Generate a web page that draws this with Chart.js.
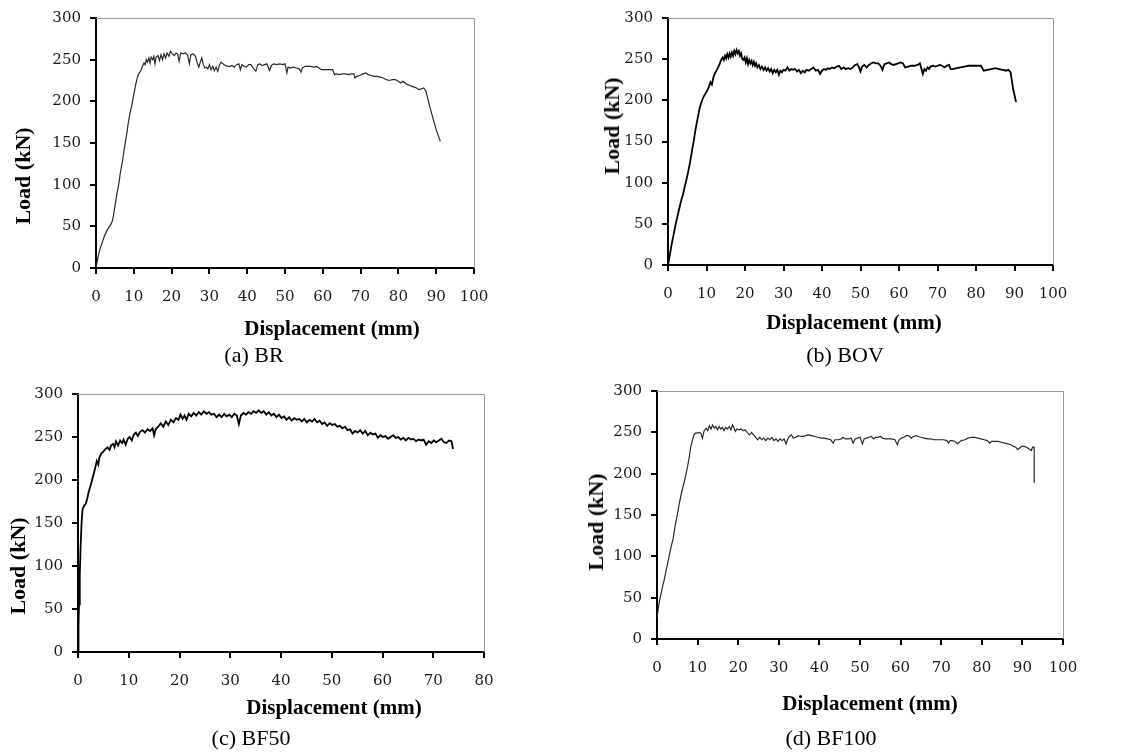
<!DOCTYPE html>
<html>
<head>
<meta charset="utf-8">
<script src="https://cdn.jsdelivr.net/npm/chart.js@4.4.1/dist/chart.umd.min.js"></script>
<style>
  html, body { margin: 0; padding: 0; background: #fff; }
  #wrap { position: relative; width: 1121px; height: 753px; overflow: hidden; background: #fff; }
  canvas { position: absolute; }
  .t { position: absolute; color: #000; white-space: nowrap; transform: translate(-50%, -50%); line-height: 1; font-family: "Liberation Serif", "Times New Roman", serif; }
  .xt { font-weight: bold; font-size: 21px; }
  .yt { font-weight: bold; font-size: 22px; transform: translate(-50%, -50%) rotate(-90deg); }
  .cap { font-size: 22px; }
</style>
</head>
<body>
<div id="wrap">
  <canvas id="cA" width="560" height="320" style="left:0px;top:0px;width:560px;height:320px"></canvas>
  <canvas id="cB" width="561" height="320" style="left:560px;top:0px;width:561px;height:320px"></canvas>
  <canvas id="cC" width="560" height="350" style="left:0px;top:370px;width:560px;height:350px"></canvas>
  <canvas id="cD" width="561" height="350" style="left:560px;top:370px;width:561px;height:350px"></canvas>

  <div class="t yt" style="left:23px;top:176px">Load (kN)</div>
  <div class="t xt" style="left:332px;top:328px">Displacement (mm)</div>
  <div class="t cap" style="left:254px;top:355px">(a) BR</div>

  <div class="t yt" style="left:612px;top:126px">Load (kN)</div>
  <div class="t xt" style="left:854px;top:322px">Displacement (mm)</div>
  <div class="t cap" style="left:845px;top:355px">(b) BOV</div>

  <div class="t yt" style="left:18px;top:566px">Load (kN)</div>
  <div class="t xt" style="left:334px;top:707px">Displacement (mm)</div>
  <div class="t cap" style="left:251px;top:738px">(c) BF50</div>

  <div class="t yt" style="left:596px;top:522px">Load (kN)</div>
  <div class="t xt" style="left:870px;top:703px">Displacement (mm)</div>
  <div class="t cap" style="left:831px;top:738px">(d) BF100</div>
</div>
<script>
// ---------------- DATA ----------------
const yTicks = [0, 50, 100, 150, 200, 250, 300];
const xTicks100 = [0, 10, 20, 30, 40, 50, 60, 70, 80, 90, 100];
const xTicks80 = [0, 10, 20, 30, 40, 50, 60, 70, 80];

// (a) BR
const brX = [0,0.5,1,1.6,2.2,2.8,3.4,3.9,4.3,4.6,5.0,5.5,6.0,6.5,7.0,7.4,7.8,8.2,8.6,9.0,9.5,10.0,10.5,10.9,11.3,11.9,12.3,12.7,13.0,13.3,13.6,14.0,14.3,14.6,15.0,15.3,15.6,15.9,16.4,16.8,17.2,17.6,18.0,18.4,18.8,19.3,19.7,20.2,20.7,21.2,21.6,22.0,22.4,23.0,23.6,24.2,24.7,25.1,25.7,26.3,26.8,27.2,27.6,28.0,28.4,28.8,29.2,29.6,30.0,30.4,30.9,31.3,31.8,32.2,32.7,33.1,33.6,34.2,34.8,35.4,36.0,36.6,37.2,37.8,38.2,38.6,39.2,39.8,40.4,41.0,41.6,42.3,42.8,43.3,44.0,44.6,45.2,45.9,46.4,47.0,47.8,48.6,49.4,50.0,50.5,50.8,51.4,52.2,53.0,53.8,54.2,54.6,55.3,56.0,56.8,57.6,58.4,59.0,59.6,60.4,61.2,62.0,62.6,63.1,63.6,64.4,65.2,66.0,66.8,67.6,68.2,68.5,69.0,69.8,70.6,71.4,72.0,72.8,73.6,74.4,75.2,76.0,76.8,77.6,78.4,79.2,80.0,80.6,81.2,81.8,82.4,83.0,83.6,84.2,84.8,85.4,86.0,86.7,87.3,88.0,89.0,90.0,91.1];
const brY = [0,12,22,30,38,44,49,52,56,62,74,88,100,116,128,141,152,163,176,186,196,208,220,228,233,237,242,246,244,250,247,252,246,253,250,254,245,253,255,249,256,250,257,252,258,254,260,257,255,258,257,248,258,257,258,256,245,256,257,254,246,241,247,252,244,240,241,239,244,238,242,237,241,236,244,247,245,243,242,242,243,241,244,245,238,244,242,241,244,244,240,236,244,245,243,244,245,237,243,245,244,245,244,245,234,241,240,241,240,239,235,240,242,242,242,241,242,240,238,238,238,238,238,232,233,232,233,233,232,233,233,228,230,231,233,234,232,231,230,230,229,228,226,225,226,226,224,222,224,222,220,219,218,217,216,214,215,216,212,199,182,166,152];

// (b) BOV
const bovX = [0,0.4,0.9,1.5,2.1,2.7,3.3,3.9,4.5,5.1,5.7,6.2,6.7,7.2,7.7,8.2,8.7,9.2,9.7,10.2,10.6,11.0,11.4,11.8,12.2,12.6,13.0,13.4,13.8,14.2,14.5,14.8,15.1,15.4,15.7,16.0,16.3,16.6,16.9,17.2,17.5,17.8,18.1,18.4,18.7,19.0,19.3,19.6,19.9,20.2,20.5,20.8,21.1,21.4,21.7,22.0,22.3,22.6,22.9,23.2,23.6,24.0,24.4,24.8,25.2,25.6,26.0,26.4,26.8,27.2,27.6,28.0,28.4,28.8,29.2,29.6,30.0,30.5,31.0,31.5,32.0,32.5,33.0,33.5,34.0,34.5,35.0,35.5,36.0,36.6,37.2,37.8,38.4,39.0,39.5,40.0,40.5,41.0,41.5,42.0,42.6,43.2,43.8,44.4,45.0,45.6,46.2,46.8,47.4,48.0,48.6,49.2,49.6,50.0,50.4,51.0,51.6,52.2,52.8,53.4,54.0,54.6,55.2,55.7,56.2,56.8,57.4,58.0,58.6,59.2,59.8,60.4,61.0,61.6,62.4,63.2,64.0,64.8,65.4,65.9,66.2,66.6,67.0,67.4,67.8,68.2,68.8,69.4,70.0,70.6,71.2,71.8,72.4,73.0,73.4,74.0,75.0,76.0,77.0,78.0,79.0,80.0,81.0,81.3,82.0,83.0,84.0,85.0,86.0,87.0,87.8,88.4,89.0,89.6,90.4];
const bovY = [0,10,24,38,52,64,76,86,98,110,124,138,151,166,178,190,198,204,208,212,216,222,219,228,233,236,240,244,249,252,249,254,251,256,252,257,253,258,254,260,256,261,257,260,254,257,250,249,252,246,251,244,249,245,248,243,247,242,245,240,243,238,241,237,240,236,239,235,238,233,237,234,237,231,236,234,237,236,240,236,238,237,238,235,237,233,236,234,237,236,238,240,236,237,232,236,238,237,239,238,240,239,241,242,238,240,238,239,238,240,243,244,240,235,241,243,240,243,245,246,245,245,242,237,244,245,246,244,243,244,245,246,245,240,241,242,242,243,245,237,232,238,236,240,238,241,242,241,242,243,242,240,242,243,238,238,239,240,241,242,242,242,242,242,236,237,238,239,238,237,236,237,234,215,198,180];

// (c) BF50
const bf50X = [0,0.1,0.2,0.35,0.5,0.7,0.9,1.2,1.5,1.8,2.1,2.5,2.9,3.3,3.7,4.0,4.2,4.6,5.0,5.4,5.8,6.2,6.5,6.9,7.2,7.5,7.9,8.3,8.7,9.0,9.4,9.8,10.2,10.6,11.0,11.4,11.8,12.2,12.7,13.2,13.7,14.2,14.7,15.0,15.3,15.8,16.3,16.8,17.3,17.8,18.3,18.8,19.3,19.8,20.2,20.6,21.0,21.4,21.8,22.3,22.8,23.3,23.8,24.3,24.8,25.3,25.8,26.3,26.8,27.3,27.8,28.3,28.8,29.3,29.8,30.3,30.8,31.3,31.7,32.1,32.6,33.1,33.6,34.1,34.6,35.1,35.6,36.1,36.6,37.1,37.6,38.1,38.6,39.1,39.6,40.1,40.6,41.1,41.6,42.1,42.6,43.1,43.6,44.1,44.6,45.1,45.6,46.1,46.6,47.1,47.6,48.1,48.6,49.1,49.6,50.1,50.6,51.1,51.6,52.1,52.6,53.1,53.6,54.1,54.6,55.1,55.6,56.1,56.6,57.1,57.6,58.1,58.6,59.1,59.6,60.1,60.6,61.1,61.6,62.1,62.6,63.1,63.6,64.1,64.6,65.1,65.6,66.1,66.6,67.1,67.6,68.1,68.6,69.1,69.6,70.1,70.6,71.1,71.6,72.1,72.6,73.1,73.6,73.9];
const bf50Y = [0,30,55,90,120,150,166,170,172,178,186,194,203,212,222,218,226,231,233,236,238,235,240,242,238,245,240,246,243,247,241,248,250,246,253,255,251,256,258,255,259,257,260,252,259,262,266,262,268,264,270,267,272,270,276,271,275,270,277,274,278,275,279,276,280,277,279,276,277,273,276,273,277,274,276,273,277,275,265,275,278,276,279,277,280,278,281,278,280,276,279,275,277,273,276,272,274,270,273,269,272,270,271,268,271,267,270,268,271,267,269,265,267,263,266,264,265,262,263,260,262,258,259,254,257,255,258,254,257,252,255,253,254,249,252,250,251,248,250,252,249,250,247,249,246,249,247,248,245,247,246,247,241,245,243,246,244,246,248,244,243,246,245,236];

// (d) BF100
const bf100X = [0,0.3,0.6,1.0,1.4,1.8,2.3,2.9,3.4,4.0,4.5,5.0,5.5,6.0,6.5,7.0,7.5,8.0,8.3,8.6,9.0,9.4,9.8,10.3,10.8,11.2,11.6,12.1,12.5,12.9,13.3,13.7,14.1,14.5,14.9,15.3,15.7,16.1,16.5,16.9,17.3,17.8,18.2,18.6,19.0,19.3,19.7,20.2,20.7,21.2,21.7,22.2,22.8,23.3,23.8,24.3,24.8,25.3,25.8,26.3,26.8,27.3,27.8,28.3,28.8,29.3,29.8,30.3,30.8,31.3,31.8,32.2,32.6,33.1,33.6,34.2,34.8,35.4,36.0,36.6,37.2,38.0,38.8,39.6,40.4,41.2,42.0,42.8,43.4,43.8,44.6,45.4,45.8,46.4,47.2,47.8,48.3,48.8,49.4,50.0,50.6,51.0,51.6,52.2,52.8,53.3,53.8,54.4,55.0,55.6,56.2,57.0,57.8,58.6,59.2,59.6,60.2,60.8,61.4,62.0,62.6,63.2,63.8,64.4,65.0,65.8,66.6,67.4,68.2,69.0,69.8,70.6,71.4,71.8,72.2,72.8,73.4,74.0,74.4,75.0,75.8,76.6,77.4,78.2,79.0,79.8,80.6,81.4,81.9,82.4,83.2,84.0,84.8,85.6,86.4,87.2,87.8,88.4,88.8,89.3,89.8,90.4,91.0,91.6,92.2,92.5,92.9,92.9];
const bf100Y = [25,36,46,55,64,72,84,98,110,122,138,150,164,176,186,196,208,222,232,238,246,249,249,250,249,243,252,255,252,258,254,259,255,257,253,257,254,256,252,256,254,257,253,259,255,251,254,253,254,252,253,250,247,250,247,244,241,244,241,243,240,243,241,244,240,242,239,242,240,242,236,242,245,247,243,244,246,245,245,246,247,246,245,244,243,243,242,241,237,241,241,242,244,242,242,243,237,242,243,244,236,242,243,244,245,242,244,244,245,243,242,242,242,241,235,241,243,244,246,246,243,245,246,245,244,243,242,242,241,241,241,241,240,237,240,240,239,236,238,240,241,243,244,244,243,242,241,240,237,239,239,239,238,237,236,235,233,232,229,231,233,233,232,230,228,232,232,189];

// ---------------- CHARTS ----------------
const TICK_FONT = { family: '"DejaVu Serif", serif', size: 15 };

const framePlugin = {
  id: 'frame',
  afterDraw(chart) {
    const a = chart.chartArea, ctx = chart.ctx;
    ctx.save();
    ctx.strokeStyle = '#8d9cae';
    ctx.lineWidth = 1;
    ctx.beginPath();
    ctx.moveTo(a.left, a.top + 0.5);
    ctx.lineTo(a.right + 0.5, a.top + 0.5);
    ctx.lineTo(a.right + 0.5, a.bottom);
    ctx.stroke();
    ctx.restore();
  }
};

function toPoints(xs, ys) { return xs.map((x, i) => ({ x: x, y: ys[i] })); }

function makeChart(id, xs, ys, xTickVals, lw, lc, pad, yW, xH) {
  const xMax = xTickVals[xTickVals.length - 1];
  new Chart(document.getElementById(id), {
    type: 'line',
    data: { datasets: [{ data: toPoints(xs, ys), borderColor: lc, borderWidth: lw, pointRadius: 0, tension: 0, fill: false }] },
    options: {
      responsive: false, animation: false, events: [],
      layout: { padding: { top: pad.top, right: pad.right, left: 0, bottom: 0 } },
      plugins: { legend: { display: false }, tooltip: { enabled: false }, title: { display: false } },
      scales: {
        x: {
          type: 'linear', min: 0, max: xMax,
          afterBuildTicks: (s) => { s.ticks = xTickVals.map(v => ({ value: v })); },
          afterFit: (s) => { s.height = xH; },
          border: { display: true, color: '#000', width: 2 },
          grid: { drawOnChartArea: false, drawTicks: true, tickLength: 6, color: '#000', lineWidth: 2 },
          ticks: { font: TICK_FONT, color: '#1a1a1a', padding: 14, maxRotation: 0, autoSkip: false }
        },
        y: {
          type: 'linear', min: 0, max: 300,
          afterBuildTicks: (s) => { s.ticks = yTicks.map(v => ({ value: v })); },
          afterFit: (s) => { s.width = yW; },
          border: { display: true, color: '#000', width: 2 },
          grid: { drawOnChartArea: false, drawTicks: true, tickLength: 6, color: '#000', lineWidth: 2 },
          ticks: { font: TICK_FONT, color: '#1a1a1a', padding: 9, autoSkip: false }
        }
      }
    },
    plugins: [framePlugin]
  });
}

// plot areas: (a) 96..474 x 16..268 ; (b) 668..1053 x 14..265 ; (c) 78..484 x 394..652 ; (d) 657..1063 x 391..639
makeChart('cA', brX, brY, xTicks100, 1.2, '#2a2a2a', { top: 16, right: 560 - 474 }, 96, 320 - 268);
makeChart('cB', bovX, bovY, xTicks100, 1.8, '#000', { top: 14, right: 1121 - 1053 }, 668 - 560, 320 - 265);
makeChart('cC', bf50X, bf50Y, xTicks80, 1.8, '#000', { top: 394 - 370, right: 560 - 484 }, 78, 720 - 652);
makeChart('cD', bf100X, bf100Y, xTicks100, 1.2, '#2a2a2a', { top: 391 - 370, right: 1121 - 1063 }, 657 - 560, 720 - 639);
</script>
</body>
</html>
